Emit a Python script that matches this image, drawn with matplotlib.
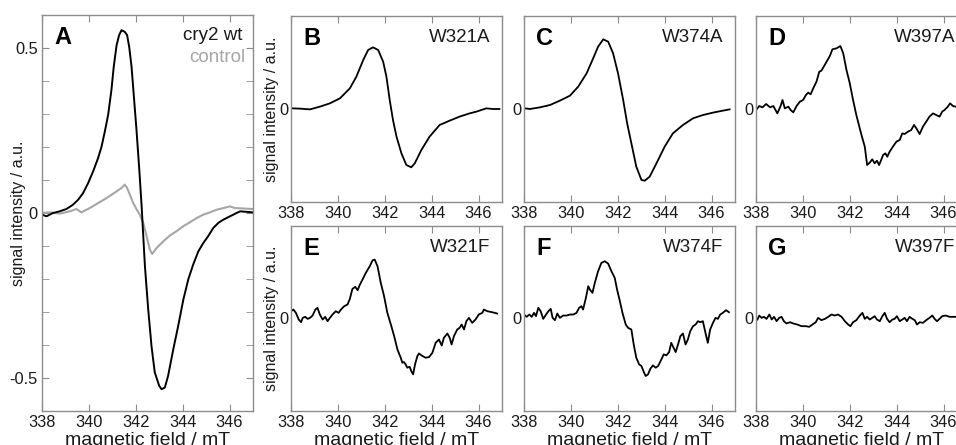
import matplotlib
matplotlib.use("Agg")
import matplotlib.pyplot as plt
from matplotlib.ticker import MultipleLocator

plt.rcParams['font.family'] = ['Liberation Sans', 'DejaVu Sans']

# ---------------- data ----------------
# Panel A: cry2 wt (black) and control (gray)
a_wt_x = [338.00, 338.19, 338.47, 338.75, 339.04, 339.32, 339.54, 339.75, 339.97, 340.18,
          340.39, 340.54, 340.68, 340.82, 340.96, 341.06, 341.18, 341.29, 341.39, 341.53,
          341.63, 341.72, 341.82, 341.92, 342.03, 342.15, 342.25, 342.39, 342.53, 342.67,
          342.81, 343.00, 343.10, 343.24, 343.38, 343.60, 343.81, 344.03, 344.24, 344.45,
          344.67, 344.88, 345.09, 345.31, 345.52, 345.74, 346.02, 346.30, 346.45, 347.00]
a_wt_y = [-0.005, -0.010, 0.000, 0.005, 0.012, 0.025, 0.040, 0.060, 0.091, 0.126,
          0.166, 0.201, 0.247, 0.297, 0.372, 0.443, 0.508, 0.539, 0.554, 0.549,
          0.539, 0.503, 0.443, 0.352, 0.252, 0.131, 0.020, -0.161, -0.292, -0.403,
          -0.483, -0.524, -0.534, -0.529, -0.493, -0.413, -0.342, -0.262, -0.201, -0.156,
          -0.116, -0.091, -0.070, -0.045, -0.030, -0.020, -0.010, 0.000, 0.005, 0.002]
a_ctrl_x = [338.00, 338.33, 338.75, 339.18, 339.47, 339.68, 340.04, 340.39, 340.75, 341.11,
            341.39, 341.53, 341.63, 341.75, 341.89, 342.03, 342.17, 342.32, 342.46, 342.60,
            342.70, 342.89, 343.17, 343.46, 343.74, 344.03, 344.31, 344.60, 344.88, 345.17,
            345.45, 345.74, 346.02, 346.23, 347.00]
a_ctrl_y = [0.000, 0.002, -0.002, 0.005, 0.012, 0.002, 0.015, 0.030, 0.045, 0.062,
            0.076, 0.086, 0.076, 0.055, 0.030, 0.012, -0.005, -0.030, -0.070, -0.111,
            -0.124, -0.106, -0.086, -0.068, -0.055, -0.040, -0.028, -0.015, -0.005, 0.002,
            0.010, 0.015, 0.020, 0.015, 0.012]

# Panel B: W321A
b_x = [338.03, 338.38, 338.81, 339.23, 339.66, 340.09, 340.51, 340.79, 341.08, 341.29,
       341.50, 341.72, 341.93, 342.07, 342.21, 342.35, 342.50, 342.71, 342.92, 343.13,
       343.28, 343.56, 343.91, 344.34, 344.77, 345.19, 345.62, 345.90, 346.33, 346.61, 346.89]
b_y = [0.007, 0.004, -0.004, 0.025, 0.061, 0.115, 0.222, 0.348, 0.527, 0.634,
       0.663, 0.634, 0.509, 0.348, 0.097, -0.118, -0.297, -0.477, -0.602, -0.627,
       -0.584, -0.441, -0.297, -0.172, -0.125, -0.082, -0.047, -0.029, 0.007, 0.000, 0.000]

# Panel C: W374A
c_x = [338.04, 338.26, 338.68, 339.11, 339.53, 339.96, 340.31, 340.67, 340.95, 341.16,
       341.38, 341.59, 341.80, 342.01, 342.23, 342.40, 342.58, 342.79, 343.01, 343.15,
       343.36, 343.65, 344.00, 344.35, 344.78, 345.21, 345.63, 346.06, 346.48, 346.77]
c_y = [0.007, 0.000, 0.018, 0.043, 0.090, 0.143, 0.240, 0.383, 0.545, 0.670,
       0.749, 0.724, 0.599, 0.384, 0.097, -0.154, -0.369, -0.620, -0.763, -0.771,
       -0.728, -0.584, -0.405, -0.262, -0.172, -0.100, -0.065, -0.039, -0.018, -0.004]

# Panel D: W397A
d_x = [338.00, 338.14, 338.28, 338.43, 338.60, 338.74, 338.91, 339.05, 339.13, 339.23,
       339.38, 339.48, 339.59, 339.73, 339.87, 340.01, 340.13, 340.23, 340.33, 340.44,
       340.58, 340.70, 340.79, 340.89, 341.01, 341.15, 341.26, 341.43, 341.60, 341.72,
       341.86, 342.00, 342.14, 342.28, 342.50, 342.64, 342.74, 342.85, 342.96, 343.06,
       343.16, 343.25, 343.35, 343.42, 343.52, 343.60, 343.70, 343.84, 343.99, 344.13,
       344.24, 344.34, 344.48, 344.62, 344.74, 344.84, 344.98, 345.12, 345.26, 345.40,
       345.55, 345.69, 345.83, 345.94, 346.04, 346.18, 346.28, 346.40, 346.51, 346.80]
d_y = [-0.011, 0.032, 0.018, 0.054, 0.018, 0.032, -0.047, 0.032, 0.097, 0.007,
       0.025, -0.011, -0.036, 0.032, 0.079, 0.097, 0.151, 0.176, 0.158, 0.222,
       0.294, 0.401, 0.412, 0.455, 0.509, 0.570, 0.642, 0.652, 0.677, 0.599,
       0.419, 0.276, 0.097, -0.065, -0.280, -0.405, -0.602, -0.577, -0.541, -0.584,
       -0.556, -0.602, -0.541, -0.495, -0.477, -0.513, -0.459, -0.405, -0.351, -0.333,
       -0.262, -0.269, -0.244, -0.226, -0.172, -0.208, -0.269, -0.190, -0.136, -0.082,
       -0.047, -0.065, -0.082, -0.029, -0.011, 0.025, 0.061, 0.032, 0.025, 0.030]

# Panel E: W321F
e_x = [338.00, 338.10, 338.21, 338.33, 338.43, 338.50, 338.61, 338.71, 338.81, 338.92,
       339.04, 339.13, 339.23, 339.35, 339.46, 339.56, 339.66, 339.77, 339.91, 340.03,
       340.13, 340.27, 340.41, 340.51, 340.62, 340.74, 340.84, 340.94, 341.05, 341.19,
       341.36, 341.48, 341.57, 341.69, 341.83, 341.97, 342.11, 342.26, 342.40, 342.54,
       342.68, 342.75, 342.82, 342.89, 342.96, 343.06, 343.15, 343.21, 343.29, 343.39,
       343.46, 343.57, 343.74, 343.89, 344.03, 344.17, 344.31, 344.43, 344.52, 344.67,
       344.77, 344.85, 344.95, 345.09, 345.19, 345.28, 345.38, 345.48, 345.59, 345.73,
       345.87, 346.01, 346.16, 346.23, 346.37, 346.58, 346.79]
e_y = [0.079, 0.097, 0.061, -0.011, -0.040, 0.007, 0.018, -0.004, 0.007, 0.032,
       0.097, 0.115, 0.043, -0.011, 0.018, -0.029, 0.007, 0.043, 0.079, 0.061,
       0.097, 0.133, 0.151, 0.212, 0.320, 0.342, 0.306, 0.367, 0.421, 0.493,
       0.565, 0.629, 0.637, 0.565, 0.385, 0.241, 0.061, -0.065, -0.191, -0.335,
       -0.424, -0.478, -0.471, -0.496, -0.532, -0.522, -0.579, -0.604, -0.496, -0.406,
       -0.378, -0.400, -0.424, -0.417, -0.371, -0.263, -0.227, -0.292, -0.209, -0.162,
       -0.209, -0.281, -0.191, -0.119, -0.101, -0.065, -0.119, -0.029, 0.007, -0.047,
       -0.011, 0.043, 0.061, 0.097, 0.079, 0.068, 0.054]

# Panel F: W374F
f_x = [338.00, 338.11, 338.23, 338.33, 338.43, 338.51, 338.61, 338.71, 338.82, 338.94,
       339.04, 339.14, 339.22, 339.32, 339.42, 339.53, 339.67, 339.82, 339.96, 340.10,
       340.24, 340.35, 340.45, 340.52, 340.64, 340.74, 340.81, 340.92, 341.02, 341.16,
       341.30, 341.45, 341.59, 341.73, 341.87, 341.97, 342.09, 342.20, 342.34, 342.44,
       342.58, 342.68, 342.79, 342.91, 343.01, 343.11, 343.19, 343.29, 343.39, 343.50,
       343.62, 343.72, 343.86, 343.96, 344.07, 344.19, 344.28, 344.38, 344.47, 344.57,
       344.67, 344.78, 344.89, 344.99, 345.09, 345.21, 345.32, 345.42, 345.52, 345.63,
       345.74, 345.84, 345.94, 346.06, 346.17, 346.27, 346.37, 346.48, 346.62, 346.74]
f_y = [0.043, 0.018, 0.043, 0.018, 0.061, 0.025, 0.115, 0.079, -0.004, 0.043,
       0.079, 0.104, 0.007, -0.018, 0.054, 0.007, 0.032, 0.032, 0.043, 0.043,
       0.061, 0.115, 0.133, 0.097, 0.223, 0.349, 0.313, 0.277, 0.385, 0.511,
       0.601, 0.619, 0.593, 0.511, 0.439, 0.313, 0.187, 0.061, -0.065, -0.101,
       -0.119, -0.281, -0.424, -0.496, -0.514, -0.579, -0.622, -0.604, -0.543, -0.507,
       -0.532, -0.514, -0.442, -0.388, -0.399, -0.363, -0.263, -0.317, -0.363, -0.281,
       -0.191, -0.162, -0.281, -0.227, -0.137, -0.083, -0.065, -0.029, -0.040, -0.029,
       -0.155, -0.263, -0.119, -0.047, 0.007, -0.004, 0.043, 0.061, 0.090, 0.068]

# Panel G: W397F
g_x = [338.06, 338.14, 338.24, 338.34, 338.45, 338.57, 338.67, 338.77, 338.88, 338.99,
       339.09, 339.19, 339.30, 339.45, 339.59, 339.76, 339.94, 340.13, 340.27, 340.41,
       340.55, 340.65, 340.79, 340.94, 341.08, 341.22, 341.36, 341.50, 341.65, 341.79,
       341.93, 342.03, 342.14, 342.28, 342.43, 342.54, 342.64, 342.74, 342.85, 342.96,
       343.06, 343.16, 343.28, 343.39, 343.49, 343.59, 343.70, 343.82, 343.91, 344.01,
       344.13, 344.24, 344.34, 344.44, 344.55, 344.67, 344.77, 344.87, 344.98, 345.12,
       345.26, 345.40, 345.52, 345.62, 345.72, 345.83, 345.94, 346.09, 346.26, 346.40,
       346.51, 346.80]
g_y = [-0.011, 0.032, 0.007, 0.018, -0.004, 0.043, -0.011, 0.018, -0.029, 0.007,
       0.018, -0.029, -0.054, -0.040, -0.054, -0.065, -0.083, -0.083, -0.090, -0.065,
       -0.040, 0.007, -0.018, -0.004, 0.018, 0.043, 0.032, 0.043, 0.018, -0.029,
       -0.065, -0.083, -0.040, -0.018, 0.032, 0.061, -0.004, 0.018, -0.011, 0.007,
       0.025, -0.011, -0.029, 0.025, 0.061, -0.004, -0.040, -0.011, -0.004, 0.025,
       -0.029, -0.011, 0.007, -0.029, 0.018, -0.004, -0.018, -0.065, -0.040, -0.047,
       -0.018, 0.007, 0.032, -0.004, -0.029, -0.004, 0.025, 0.032, 0.018, 0.018,
       0.018, 0.020]

x_ticks = [338, 340, 342, 344, 346]
a_yticks = [-0.5, 0, 0.5]
a_yticklabels = ['-0.5', '0', '0.5']
panel_letters = ['A', 'B', 'C', 'D', 'E', 'F', 'G']
mutant_names = ['W321A', 'W374A', 'W397A', 'W321F', 'W374F', 'W397F']
legend_names = ['cry2 wt', 'control']
xlabel = 'magnetic field / mT'
ylabel = 'signal intensity / a.u.'

# ---------------- figure ----------------
W, H = 956, 445
fig = plt.figure(figsize=(W / 100, H / 100), dpi=100)

def frac(left, top, right, bottom):
    return [left / W, (H - bottom) / H, (right - left) / W, (bottom - top) / H]

SPINE = '#8c8c8c'
TXT = '#1a1a1a'
GRAY = '#a6a6a6'
TICKFS = 11.8
XLABFS = 14
YLABFS = 11.5
NAMEFS = 13.5

def style(ax, small=True):
    for s in ax.spines.values():
        s.set_color(SPINE)
        s.set_linewidth(1.0)
    ax.set_xlim(338, 347)
    ax.set_xticks(x_ticks)
    ax.set_xticklabels([str(t) for t in x_ticks])
    ax.tick_params(axis='x', direction='in', top=True, bottom=True, length=5,
                   color=SPINE, labelsize=TICKFS, labelcolor=TXT, pad=3)
    if small:
        ax.set_ylim(-1, 1)
        ax.set_yticks([0])
        ax.set_yticklabels(['0'])
        ax.tick_params(axis='y', direction='in', left=True, right=False, length=0,
                       labelsize=TICKFS, labelcolor=TXT, pad=2)

# Panel A
axA = fig.add_axes(frac(42, 15, 253, 411))
style(axA, small=False)
axA.set_ylim(-0.6, 0.6)
axA.set_yticks(a_yticks)
axA.set_yticklabels(a_yticklabels)
axA.yaxis.set_minor_locator(MultipleLocator(0.1))
axA.tick_params(axis='y', which='both', direction='in', left=True, right=True,
                length=5, color=SPINE, labelsize=TICKFS, labelcolor=TXT, pad=3)
axA.plot(a_ctrl_x, a_ctrl_y, color=GRAY, lw=1.5)
axA.plot(a_wt_x, a_wt_y, color='black', lw=1.4)
axA.set_xlabel(xlabel, fontsize=XLABFS, color=TXT)
axA.set_ylabel(ylabel, fontsize=YLABFS, color=TXT)
axA.yaxis.set_label_coords(-0.076, 0.5)
axA.xaxis.set_label_coords(0.5, -0.054)
axA.annotate(panel_letters[0], xy=(0, 1), xycoords='axes fraction', xytext=(12, -29),
             textcoords='offset pixels', fontsize=17, fontweight='bold', va='baseline', ha='left')
axA.annotate(legend_names[0], xy=(1, 1), xycoords='axes fraction', xytext=(-11, -25),
             textcoords='offset pixels', fontsize=NAMEFS, color=TXT, va='baseline', ha='right')
axA.annotate(legend_names[1], xy=(1, 1), xycoords='axes fraction', xytext=(-8, -47),
             textcoords='offset pixels', fontsize=NAMEFS, color=GRAY, va='baseline', ha='right')

small_series = [(b_x, b_y), (c_x, c_y), (d_x, d_y), (e_x, e_y), (f_x, f_y), (g_x, g_y)]
lefts = [291, 524, 756]
rows = [(16, 202), (226, 411)]
for i, (sx, sy) in enumerate(small_series):
    r, c = divmod(i, 3)
    top, bot = rows[r]
    ax = fig.add_axes(frac(lefts[c], top, lefts[c] + 211, bot))
    style(ax)
    ax.plot(sx, sy, color='black', lw=1.3)
    ax.annotate(panel_letters[i + 1], xy=(0, 1), xycoords='axes fraction', xytext=(12, -29),
                textcoords='offset pixels', fontsize=17, fontweight='bold', va='baseline', ha='left')
    ax.annotate(mutant_names[i], xy=(1, 1), xycoords='axes fraction', xytext=(-12, -26),
                textcoords='offset pixels', fontsize=NAMEFS, color=TXT, va='baseline', ha='right')
    if c == 0:
        ax.set_ylabel(ylabel, fontsize=YLABFS, color=TXT)
        ax.yaxis.set_label_coords(-0.057, 0.5)
    if r == 1:
        ax.set_xlabel(xlabel, fontsize=XLABFS, color=TXT)
        ax.xaxis.set_label_coords(0.5, -0.115)

fig.savefig('out.png', dpi=100)
